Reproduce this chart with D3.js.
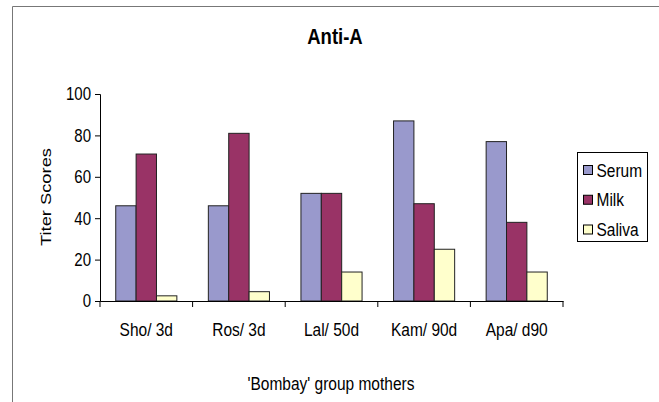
<!DOCTYPE html>
<html>
<head>
<meta charset="utf-8">
<script src="https://cdn.jsdelivr.net/npm/d3@7"></script>
<style>
  body { margin: 0; background: #fff; }
  text { font-family: "Liberation Sans", Arial, sans-serif; fill: #000; }
  .tall { transform-box: fill-box; transform-origin: center; transform: scaleY(1.22); }
</style>
</head>
<body>
<script>
// data
var categories = ["Sho/ 3d", "Ros/ 3d", "Lal/ 50d", "Kam/ 90d", "Apa/ d90"];
var seriesNames = ["Serum", "Milk", "Saliva"];
var serum = [46, 46, 52, 87, 77];
var milk = [71, 81, 52, 47, 38];
var saliva = [2.5, 4.5, 14, 25, 14];
var yTicks = [0, 20, 40, 60, 80, 100];
var colors = ["#9999cc", "#993366", "#ffffcc"];

var width = 659, height = 402;
var margin = {left: 100, right: 96, top: 94, bottom: 101};

var svg = d3.select("body").append("svg")
    .attr("width", width)
    .attr("height", height);

// outer chart frame (only left and top edges visible)
svg.append("path")
    .attr("d", "M12.5," + height + "V6.5H" + width)
    .attr("fill", "none")
    .attr("stroke", "#777")
    .attr("stroke-width", 1);

var x = d3.scaleBand()
    .domain(categories)
    .range([margin.left, width - margin.right])
    .paddingInner(0)
    .paddingOuter(0);

var y = d3.scaleLinear()
    .domain([0, 100])
    .range([height - margin.bottom, margin.top]);

var groupPad = 0.17;
var x1 = d3.scaleBand()
    .domain(seriesNames)
    .range([x.bandwidth() * groupPad, x.bandwidth() * (1 - groupPad)]);

var table = categories.map(function(c, i) {
  return {cat: c, values: [serum[i], milk[i], saliva[i]]};
});

var groups = svg.selectAll("g.cat")
    .data(table)
  .enter().append("g")
    .attr("class", "cat")
    .attr("transform", function(d) { return "translate(" + x(d.cat) + ",0)"; });

groups.selectAll("rect")
    .data(function(d) { return d.values.map(function(v, j) { return {name: seriesNames[j], value: v, j: j}; }); })
  .enter().append("rect")
    .attr("x", function(d) { return x1(d.name); })
    .attr("width", x1.bandwidth())
    .attr("y", function(d) { return y(d.value); })
    .attr("height", function(d) { return y(0) - y(d.value); })
    .attr("fill", function(d) { return colors[d.j]; })
    .attr("stroke", "#222")
    .attr("stroke-width", 1);

// y axis
var yAxis = svg.append("g")
    .attr("transform", "translate(" + margin.left + ",0)")
    .call(d3.axisLeft(y).tickValues(yTicks).tickSize(5).tickPadding(4));
yAxis.selectAll("text")
    .attr("class", "tall")
    .style("font-size", "15px");

// x axis
var xAxis = svg.append("g")
    .attr("transform", "translate(0," + y(0) + ")")
    .call(d3.axisBottom(x).tickSize(0).tickPadding(23));
xAxis.selectAll("text")
    .attr("class", "tall")
    .style("font-size", "15.5px");
xAxis.selectAll(".sep")
    .data(categories.concat(["end"]))
  .enter().append("line")
    .attr("class", "sep")
    .attr("x1", function(d, i) { return margin.left + i * x.bandwidth(); })
    .attr("x2", function(d, i) { return margin.left + i * x.bandwidth(); })
    .attr("y1", 0)
    .attr("y2", 6)
    .attr("stroke", "#000");

svg.selectAll(".domain, .tick line").attr("stroke", "#000");

// titles
svg.append("text")
    .attr("class", "tall")
    .attr("x", 335)
    .attr("y", 43)
    .attr("text-anchor", "middle")
    .style("font-size", "18.5px")
    .style("font-weight", "bold")
    .text("Anti-A");

svg.append("text")
    .attr("transform", "translate(51," + 197 + ") rotate(-90) scale(1.22,1)")
    .attr("text-anchor", "middle")
    .style("font-size", "15px")
    .text("Titer Scores");

svg.append("text")
    .attr("class", "tall")
    .attr("x", 331)
    .attr("y", 389)
    .attr("text-anchor", "middle")
    .style("font-size", "15.5px")
    .text("'Bombay' group mothers");

// legend
var legend = svg.append("g").attr("transform", "translate(577,152)");
legend.append("rect")
    .attr("x", 0.5).attr("y", 0.5)
    .attr("width", 70).attr("height", 89)
    .attr("fill", "#fff")
    .attr("stroke", "#000");

var items = legend.selectAll("g.item")
    .data(seriesNames)
  .enter().append("g")
    .attr("class", "item")
    .attr("transform", function(d, i) { return "translate(0," + (18 + i * 29.75) + ")"; });

items.append("rect")
    .attr("x", 6.5).attr("y", -4.5)
    .attr("width", 9).attr("height", 9)
    .attr("fill", function(d, i) { return colors[i]; })
    .attr("stroke", "#000");

items.append("text")
    .attr("class", "tall")
    .attr("x", 19.5)
    .attr("y", 5.5)
    .style("font-size", "15.5px")
    .text(function(d) { return d; });
</script>
</body>
</html>
